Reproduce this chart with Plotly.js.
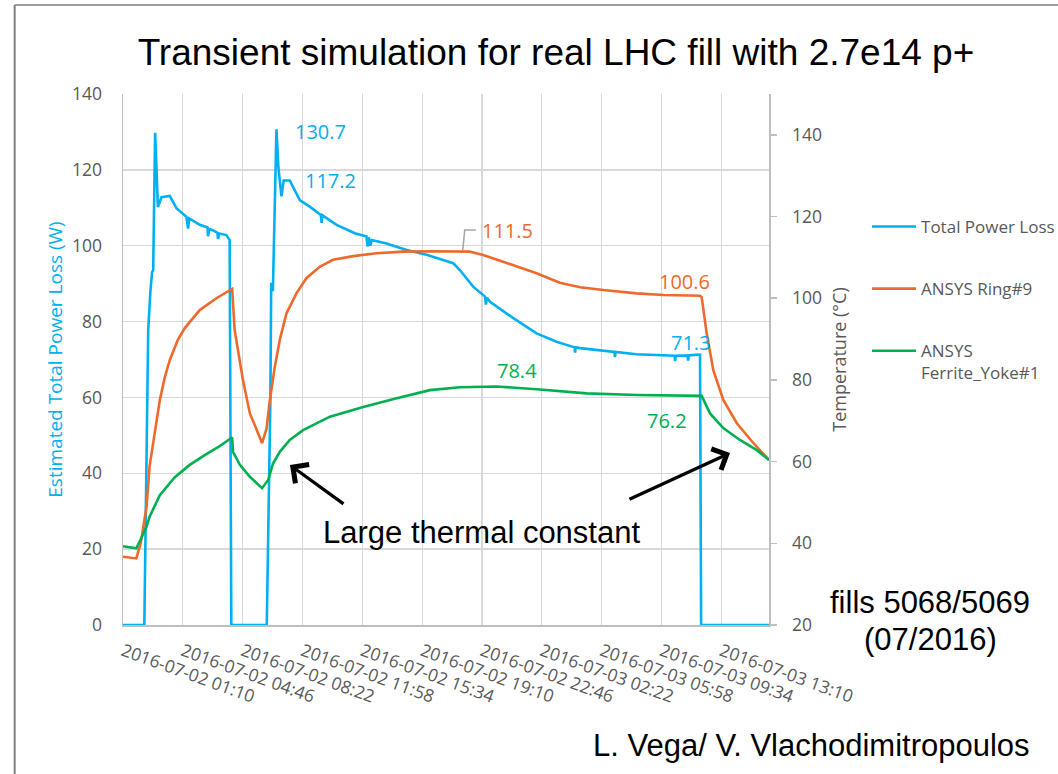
<!DOCTYPE html>
<html>
<head>
<meta charset="utf-8">
<script src="https://cdn.plot.ly/plotly-3.0.1.min.js"></script>
<style>
  html, body { margin: 0; padding: 0; background: #ffffff; }
  #chart { width: 1058px; height: 774px; }
</style>
</head>
<body>
<div id="chart"></div>
<script>
// ---------------- DATA ----------------
const seriesNames = ['Total Power Loss', 'ANSYS Ring#9', 'ANSYS<br>Ferrite_Yoke#1'];

const powerTime = [
  '2016-07-02 01:10','2016-07-02 02:27','2016-07-02 02:41','2016-07-02 02:46','2016-07-02 02:49',
  '2016-07-02 02:55','2016-07-02 02:59','2016-07-02 03:06','2016-07-02 03:12','2016-07-02 03:16',
  '2016-07-02 03:29','2016-07-02 03:59','2016-07-02 04:23','2016-07-02 04:59','2016-07-02 05:05',
  '2016-07-02 05:09','2016-07-02 05:47','2016-07-02 06:15','2016-07-02 06:17','2016-07-02 06:21',
  '2016-07-02 06:34','2016-07-02 06:51','2016-07-02 06:53','2016-07-02 06:57','2016-07-02 07:23',
  '2016-07-02 07:35','2016-07-02 07:41','2016-07-02 09:49','2016-07-02 10:02','2016-07-02 10:05',
  '2016-07-02 10:11','2016-07-02 10:13','2016-07-02 10:24','2016-07-02 10:31','2016-07-02 10:42',
  '2016-07-02 10:50','2016-07-02 11:12','2016-07-02 11:48','2016-07-02 12:24','2016-07-02 13:04',
  '2016-07-02 13:07','2016-07-02 13:10','2016-07-02 14:01','2016-07-02 15:07','2016-07-02 15:49',
  '2016-07-02 15:53','2016-07-02 15:57','2016-07-02 16:03','2016-07-02 16:08','2016-07-02 17:01',
  '2016-07-02 18:14','2016-07-02 19:26','2016-07-02 21:02','2016-07-02 21:26','2016-07-02 22:14',
  '2016-07-02 22:57','2016-07-02 23:00','2016-07-02 23:04','2016-07-02 23:15','2016-07-03 00:39',
  '2016-07-03 02:03','2016-07-03 03:15','2016-07-03 04:20','2016-07-03 04:22','2016-07-03 04:24',
  '2016-07-03 04:40','2016-07-03 06:28','2016-07-03 06:44','2016-07-03 06:46','2016-07-03 06:48',
  '2016-07-03 08:04','2016-07-03 10:05','2016-07-03 10:21','2016-07-03 10:23','2016-07-03 10:25',
  '2016-07-03 11:08','2016-07-03 11:10','2016-07-03 11:12','2016-07-03 11:53','2016-07-03 11:57',
  '2016-07-03 16:02'
];
const powerLoss = [
  0, 0, 77.8, 85.7, 88.0,
  93.0, 93.6, 129.8, 115.0, 110.2,
  112.8, 113.1, 109.9, 107.6, 104.5,
  107.2, 105.5, 104.8, 102.5, 104.4,
  104.1, 103.4, 101.8, 103.2, 102.8,
  101.5, 0, 0, 59.3, 90.2,
  88.0, 94.0, 130.7, 120.5, 113.0,
  117.2, 117.2, 112.0, 110.3, 108.1,
  106.0, 108.0, 105.5, 103.3, 102.4,
  99.8, 102.2, 100.0, 101.5, 100.6,
  98.9, 97.6, 95.4, 93.6, 89.2,
  86.6, 84.5, 86.3, 85.2, 80.9,
  76.9, 74.7, 73.2, 71.8, 73.2,
  73.0, 72.1, 72.0, 70.6, 72.0,
  71.4, 71.0, 71.0, 69.6, 71.0,
  71.1, 69.7, 71.1, 71.3, 0,
  0
];

const ringTime = [
  '2016-07-02 01:10','2016-07-02 01:58','2016-07-02 02:14','2016-07-02 02:35','2016-07-02 02:46',
  '2016-07-02 03:05','2016-07-02 03:23','2016-07-02 03:41','2016-07-02 03:59','2016-07-02 04:28',
  '2016-07-02 04:53','2016-07-02 05:47','2016-07-02 06:47','2016-07-02 07:44','2016-07-02 07:53',
  '2016-07-02 08:23','2016-07-02 08:48','2016-07-02 09:18','2016-07-02 09:32','2016-07-02 09:48',
  '2016-07-02 10:00','2016-07-02 10:18','2016-07-02 10:36','2016-07-02 11:00','2016-07-02 11:36',
  '2016-07-02 12:12','2016-07-02 13:00','2016-07-02 13:48','2016-07-02 15:01','2016-07-02 16:25',
  '2016-07-02 18:01','2016-07-02 19:50','2016-07-02 21:26','2016-07-02 22:02','2016-07-02 22:50',
  '2016-07-03 00:39','2016-07-03 02:03','2016-07-03 03:27','2016-07-03 04:40','2016-07-03 06:04',
  '2016-07-03 08:04','2016-07-03 09:41','2016-07-03 11:53','2016-07-03 11:59','2016-07-03 12:17',
  '2016-07-03 12:41','2016-07-03 13:17','2016-07-03 14:06','2016-07-03 15:06','2016-07-03 16:02'
];
const ringTemp = [
  36.7, 36.3, 40.0, 49.0, 58.9,
  67.7, 75.1, 80.7, 84.9, 89.8,
  92.7, 97.1, 100.0, 102.3, 92.2,
  80.0, 71.8, 66.9, 64.5, 68.0,
  75.0, 83.2, 89.8, 96.3, 101.2,
  104.9, 107.7, 109.4, 110.3, 111.0,
  111.4, 111.5, 111.5, 111.4, 110.6,
  108.1, 106.1, 103.8, 102.7, 102.0,
  101.2, 100.8, 100.6, 100.2, 91.4,
  82.4, 75.1, 69.4, 64.5, 60.4
];

const yokeTime = [
  '2016-07-02 01:10','2016-07-02 01:58','2016-07-02 02:14','2016-07-02 02:35','2016-07-02 02:46',
  '2016-07-02 03:23','2016-07-02 04:17','2016-07-02 05:11','2016-07-02 06:05','2016-07-02 06:59',
  '2016-07-02 07:44','2016-07-02 07:47','2016-07-02 08:12','2016-07-02 08:48','2016-07-02 09:32',
  '2016-07-02 09:54','2016-07-02 10:12','2016-07-02 10:36','2016-07-02 11:12','2016-07-02 12:00',
  '2016-07-02 13:37','2016-07-02 15:37','2016-07-02 17:38','2016-07-02 19:38','2016-07-02 21:26',
  '2016-07-02 23:15','2016-07-02 23:39','2016-07-03 02:03','2016-07-03 05:04','2016-07-03 08:04',
  '2016-07-03 11:53','2016-07-03 11:59','2016-07-03 12:29','2016-07-03 13:17','2016-07-03 14:17',
  '2016-07-03 15:18','2016-07-03 16:02'
];
const yokeTemp = [
  39.3, 38.8, 41.0, 44.1, 46.5,
  51.8, 56.2, 59.2, 61.6, 63.8,
  65.9, 62.4, 59.2, 56.3, 53.5,
  55.5, 59.6, 62.4, 65.3, 67.7,
  71.0, 73.4, 75.5, 77.5, 78.2,
  78.3, 78.4, 77.7, 76.7, 76.3,
  76.2, 76.1, 71.8, 68.2, 65.3,
  62.8, 60.4
];

// value labels shown on the chart
const powerLabels = ['130.7', '117.2', '71.3'];
const ringLabels  = ['111.5', '100.6'];
const yokeLabels  = ['78.4', '76.2'];

// ---------------- STYLE / LAYOUT ----------------
const BLUE = '#00B0F0', ORANGE = '#EE6A2C', GREEN = '#00B050';
const GRID = '#D9D9D9', AXIS = '#BFBFBF', TICK = '#595959';
const UIFONT = 'Open Sans, Noto Sans, sans-serif';
const ARIAL = 'Liberation Sans, Arial, sans-serif';

const traces = [
  { x: powerTime, y: powerLoss, name: seriesNames[0], type: 'scatter', mode: 'lines',
    line: { color: BLUE, width: 2.6 }, yaxis: 'y', legendgroup: 'a' },
  { x: ringTime, y: ringTemp, name: seriesNames[1], type: 'scatter', mode: 'lines',
    line: { color: ORANGE, width: 2.6 }, yaxis: 'y2', legendgroup: 'b' },
  { x: yokeTime, y: yokeTemp, name: seriesNames[2], type: 'scatter', mode: 'lines',
    line: { color: GREEN, width: 2.6 }, yaxis: 'y2', legendgroup: 'c' }
];

// label placement in paper coords (style only)
const powerLabelPos = [[0.3062, 0.9303], [0.3217, 0.8362], [0.8792, 0.5311]];
const ringLabelPos  = [[0.5958, 0.7420], [0.8699, 0.6478]];
const yokeLabelPos  = [[0.6097, 0.4802], [0.8420, 0.3842]];

const annotations = [];
function addLabels(texts, pos, color) {
  texts.forEach((t, i) => annotations.push({
    xref: 'paper', yref: 'paper', x: pos[i][0], y: pos[i][1],
    xanchor: 'center', yanchor: 'middle', text: t, showarrow: false,
    font: { family: UIFONT, size: 20, color: color }
  }));
}
addLabels(powerLabels, powerLabelPos, BLUE);
addLabels(ringLabels, ringLabelPos, ORANGE);
addLabels(yokeLabels, yokeLabelPos, GREEN);

annotations.push(
  { xref: 'paper', yref: 'paper', x: 0.5555, y: 0.1751, xanchor: 'center', yanchor: 'middle',
    text: 'Large thermal constant', showarrow: false, font: { family: ARIAL, size: 31, color: '#000' } },
  { xref: 'paper', yref: 'paper', x: 0.2585, y: 0.3013, text: '', showarrow: true,
    ax: 55, ay: 40, arrowhead: 4, arrowsize: 1.4, arrowwidth: 3.2, arrowcolor: '#000' },
  { xref: 'paper', yref: 'paper', x: 0.9396, y: 0.3239, text: '', showarrow: true,
    ax: -102, ay: 47, arrowhead: 4, arrowsize: 1.4, arrowwidth: 3.2, arrowcolor: '#000' },
  { xref: 'paper', yref: 'paper', x: 1.2493, y: 0.0433, xanchor: 'center', yanchor: 'middle',
    text: 'fills 5068/5069', showarrow: false, font: { family: ARIAL, size: 31, color: '#000' } },
  { xref: 'paper', yref: 'paper', x: 1.2493, y: -0.0264, xanchor: 'center', yanchor: 'middle',
    text: '(07/2016)', showarrow: false, font: { family: ARIAL, size: 31, color: '#000' } },
  { xref: 'paper', yref: 'paper', x: 1.0658, y: -0.2260, xanchor: 'center', yanchor: 'middle',
    text: 'L. Vega/ V. Vlachodimitropoulos', showarrow: false, font: { family: ARIAL, size: 31, color: '#000' } }
);

const shapes = [
  // callout leader line for 111.5
  { type: 'path', xref: 'paper', yref: 'paper',
    path: 'M 0.5259 0.7062 L 0.5290 0.7439 L 0.5461 0.7439',
    line: { color: '#A6A6A6', width: 1.6 } },
  // slide frame
  { type: 'line', xref: 'paper', yref: 'paper', x0: -0.1677, x1: -0.1677, y0: 1.1676, y1: -0.35,
    line: { color: '#7F7F7F', width: 2 } },
  { type: 'line', xref: 'paper', yref: 'paper', x0: -0.1677, x1: 1.6, y0: 1.1676, y1: 1.1676,
    line: { color: '#7F7F7F', width: 1.5 } }
];

const layout = {
  width: 1058, height: 774,
  margin: { l: 123, r: 289, t: 94, b: 149, pad: 0 },
  paper_bgcolor: '#ffffff', plot_bgcolor: '#ffffff',
  title: {
    text: 'Transient simulation for real LHC fill with 2.7e14 p+',
    font: { family: ARIAL, size: 37, color: '#000' },
    xref: 'container', yref: 'container', x: 0.5255, y: 0.933,
    xanchor: 'center', yanchor: 'middle'
  },
  showlegend: true,
  legend: {
    xref: 'container', yref: 'container',
    x: 0.8195, xanchor: 'left', y: 0.730, yanchor: 'top',
    font: { family: UIFONT, size: 17, color: TICK },
    bgcolor: 'rgba(0,0,0,0)', itemwidth: 44, traceorder: 'grouped',
    tracegroupgap: 37, valign: 'top'
  },
  xaxis: {
    type: 'date',
    range: ['2016-07-02 01:10', '2016-07-03 16:02'],
    tick0: '2016-07-02 01:10', dtick: 216 * 60 * 1000,
    tickformat: '%Y-%m-%d %H:%M', tickangle: 20,
    showgrid: true, gridcolor: GRID, gridwidth: 1.3,
    showline: true, linecolor: AXIS, linewidth: 1.5,
    ticks: '', ticklabelstandoff: 8,
    tickfont: { family: UIFONT, size: 17.5, color: TICK },
    zeroline: false, automargin: false, fixedrange: true
  },
  yaxis: {
    range: [0, 140], tick0: 0, dtick: 20,
    showgrid: true, gridcolor: GRID, gridwidth: 1.3,
    showline: true, linecolor: AXIS, linewidth: 1.5,
    ticks: '', ticklabelstandoff: 16,
    tickfont: { family: UIFONT, size: 17.5, color: TICK },
    zeroline: false, automargin: false,
    title: { text: 'Estimated Total Power Loss (W)', standoff: 4,
             font: { family: UIFONT, size: 19, color: BLUE } }
  },
  yaxis2: {
    overlaying: 'y', side: 'right',
    range: [20, 150], tick0: 20, dtick: 20,
    showgrid: false, zeroline: false,
    showline: true, linecolor: AXIS, linewidth: 1.5,
    ticks: 'outside', ticklen: 6, tickcolor: AXIS, tickwidth: 1.5, ticklabelstandoff: 12,
    tickfont: { family: UIFONT, size: 17.5, color: TICK },
    automargin: false,
    title: { text: 'Temperature (°C)', standoff: 12,
             font: { family: UIFONT, size: 18, color: TICK } }
  },
  annotations: annotations,
  shapes: shapes
};

Plotly.newPlot('chart', traces, layout, { displayModeBar: false, staticPlot: true });
</script>
</body>
</html>
